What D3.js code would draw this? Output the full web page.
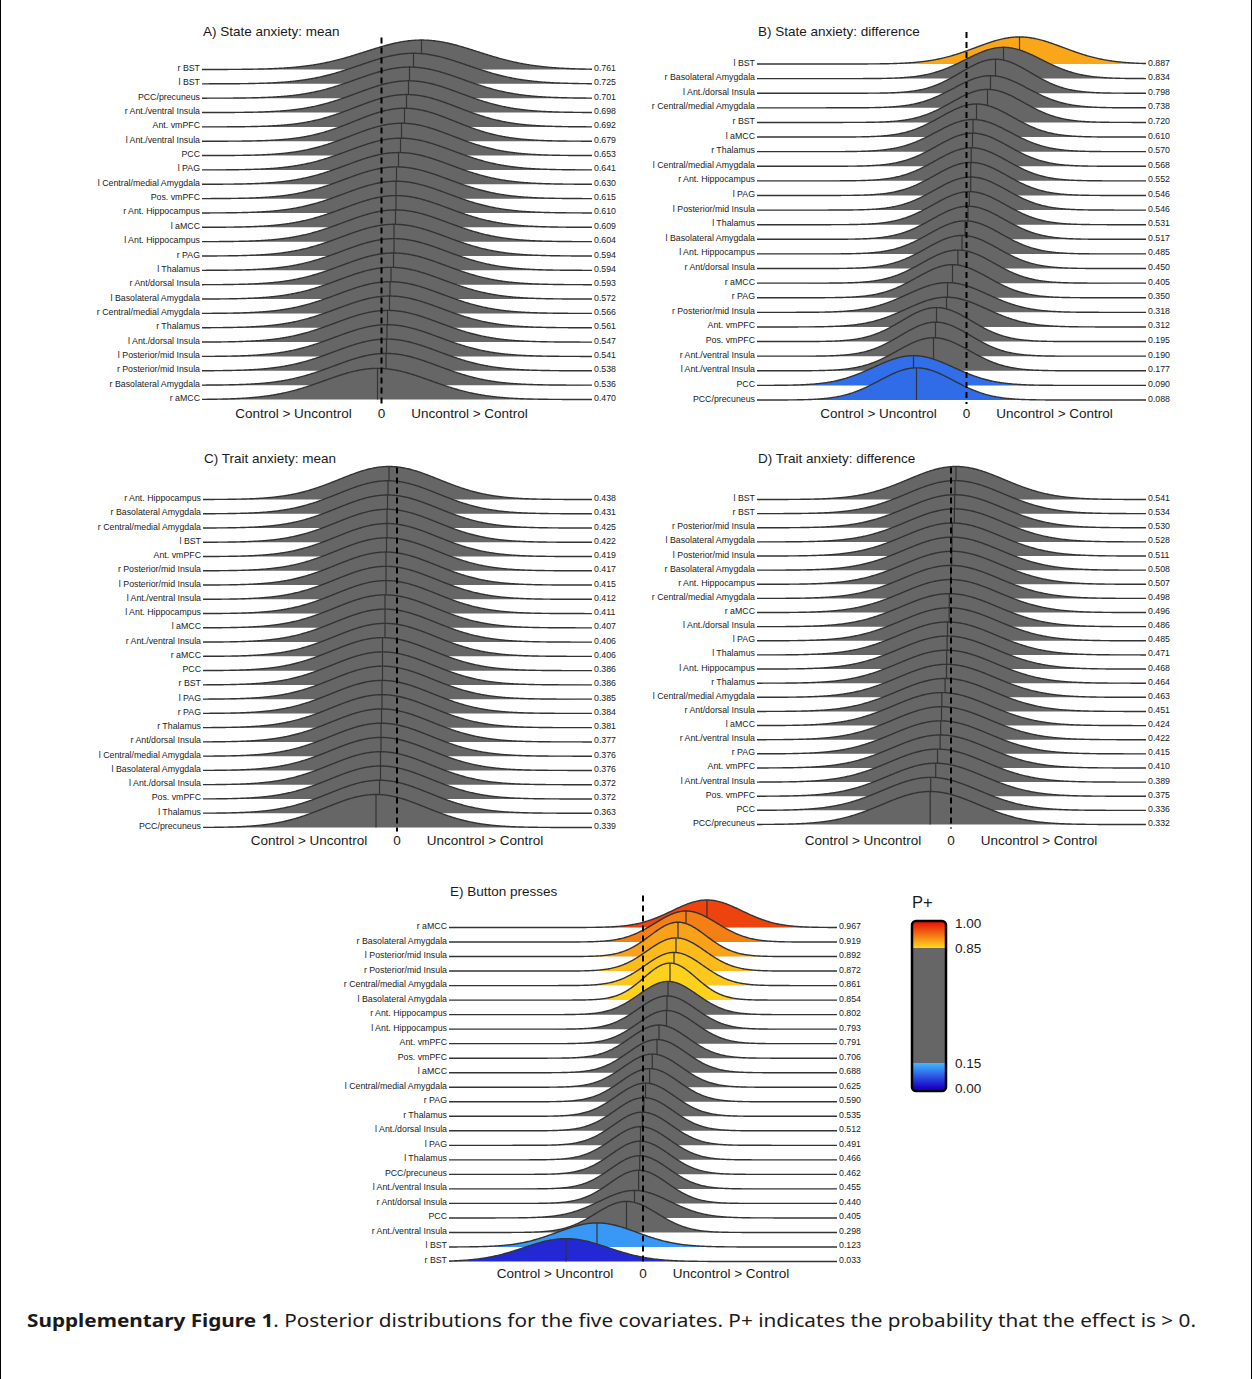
<!DOCTYPE html>
<html>
<head>
<meta charset="utf-8">
<script src="https://cdn.jsdelivr.net/npm/d3@7/dist/d3.min.js"></script>
<style>
  body { margin: 0; background: #fff; }
  svg { display: block; }
  text { font-family: "Liberation Sans", Arial, sans-serif; fill: #1a1a1a; }
</style>
</head>
<body>
<svg id="fig" width="1253" height="1379"></svg>
<script>
// ---- data (posterior mean / sd, arbitrary effect units) ----
const labelsA = ["r BST","l BST","PCC/precuneus","r Ant./ventral Insula","Ant. vmPFC","l Ant./ventral Insula","PCC","l PAG","l Central/medial Amygdala","Pos. vmPFC","r Ant. Hippocampus","l aMCC","l Ant. Hippocampus","r PAG","l Thalamus","r Ant/dorsal Insula","l Basolateral Amygdala","r Central/medial Amygdala","r Thalamus","l Ant./dorsal Insula","l Posterior/mid Insula","r Posterior/mid Insula","r Basolateral Amygdala","r aMCC"];
const pplusA  = ["0.761","0.725","0.701","0.698","0.692","0.679","0.653","0.641","0.630","0.615","0.610","0.609","0.604","0.594","0.594","0.593","0.572","0.566","0.561","0.547","0.541","0.538","0.536","0.470"];
const meanA   = [0.40,0.32,0.28,0.27,0.25,0.23,0.20,0.19,0.17,0.15,0.145,0.145,0.14,0.125,0.125,0.12,0.095,0.085,0.08,0.06,0.055,0.05,0.045,-0.04];
const sdA     = [0.56,0.54,0.53,0.52,0.51,0.50,0.51,0.52,0.52,0.52,0.52,0.52,0.52,0.52,0.52,0.52,0.52,0.52,0.52,0.52,0.52,0.52,0.52,0.53];

const labelsB = ["l BST","r Basolateral Amygdala","l Ant./dorsal Insula","r Central/medial Amygdala","r BST","l aMCC","r Thalamus","l Central/medial Amygdala","r Ant. Hippocampus","l PAG","l Posterior/mid Insula","l Thalamus","l Basolateral Amygdala","l Ant. Hippocampus","r Ant/dorsal Insula","r aMCC","r PAG","r Posterior/mid Insula","Ant. vmPFC","Pos. vmPFC","r Ant./ventral Insula","l Ant./ventral Insula","PCC","PCC/precuneus"];
const pplusB  = ["0.887","0.834","0.798","0.738","0.720","0.610","0.570","0.568","0.552","0.546","0.546","0.531","0.517","0.485","0.450","0.405","0.350","0.318","0.312","0.195","0.190","0.177","0.090","0.088"];
const meanB   = [0.53,0.37,0.29,0.24,0.21,0.10,0.065,0.06,0.047,0.042,0.042,0.028,0.015,-0.014,-0.045,-0.086,-0.14,-0.19,-0.20,-0.30,-0.31,-0.33,-0.53,-0.50];
const sdB     = [0.44,0.38,0.35,0.37,0.36,0.36,0.37,0.36,0.36,0.36,0.36,0.36,0.36,0.36,0.36,0.36,0.36,0.40,0.40,0.35,0.35,0.36,0.40,0.37];

const labelsC = ["r Ant. Hippocampus","r Basolateral Amygdala","r Central/medial Amygdala","l BST","Ant. vmPFC","r Posterior/mid Insula","l Posterior/mid Insula","l Ant./ventral Insula","l Ant. Hippocampus","l aMCC","r Ant./ventral Insula","r aMCC","PCC","r BST","l PAG","r PAG","r Thalamus","r Ant/dorsal Insula","l Central/medial Amygdala","l Basolateral Amygdala","l Ant./dorsal Insula","Pos. vmPFC","l Thalamus","PCC/precuneus"];
const pplusC  = ["0.438","0.431","0.425","0.422","0.419","0.417","0.415","0.412","0.411","0.407","0.406","0.406","0.386","0.386","0.385","0.384","0.381","0.377","0.376","0.376","0.372","0.372","0.363","0.339"];
const meanC   = [-0.08,-0.09,-0.095,-0.10,-0.10,-0.105,-0.11,-0.11,-0.11,-0.12,-0.12,-0.12,-0.145,-0.145,-0.145,-0.15,-0.15,-0.155,-0.16,-0.16,-0.165,-0.165,-0.175,-0.21];
const sdC     = [0.50,0.50,0.50,0.50,0.50,0.50,0.50,0.50,0.50,0.50,0.50,0.50,0.50,0.50,0.50,0.50,0.50,0.50,0.50,0.50,0.50,0.50,0.50,0.50];

const labelsD = ["l BST","r BST","r Posterior/mid Insula","l Basolateral Amygdala","l Posterior/mid Insula","r Basolateral Amygdala","r Ant. Hippocampus","r Central/medial Amygdala","r aMCC","l Ant./dorsal Insula","l PAG","l Thalamus","l Ant. Hippocampus","r Thalamus","l Central/medial Amygdala","r Ant/dorsal Insula","l aMCC","r Ant./ventral Insula","r PAG","Ant. vmPFC","l Ant./ventral Insula","Pos. vmPFC","PCC","PCC/precuneus"];
const pplusD  = ["0.541","0.534","0.530","0.528","0.511","0.508","0.507","0.498","0.496","0.486","0.485","0.471","0.468","0.464","0.463","0.451","0.424","0.422","0.415","0.410","0.389","0.375","0.336","0.332"];
const meanD   = [0.05,0.04,0.036,0.034,0.013,0.01,0.008,-0.002,-0.005,-0.017,-0.018,-0.035,-0.039,-0.043,-0.045,-0.059,-0.092,-0.095,-0.103,-0.109,-0.135,-0.153,-0.203,-0.208];
const sdD     = [0.48,0.48,0.48,0.48,0.48,0.48,0.48,0.48,0.48,0.48,0.48,0.48,0.48,0.48,0.48,0.48,0.48,0.48,0.48,0.48,0.48,0.48,0.48,0.48];

const labelsE = ["r aMCC","r Basolateral Amygdala","l Posterior/mid Insula","r Posterior/mid Insula","r Central/medial Amygdala","l Basolateral Amygdala","r Ant. Hippocampus","l Ant. Hippocampus","Ant. vmPFC","Pos. vmPFC","l aMCC","l Central/medial Amygdala","r PAG","r Thalamus","l Ant./dorsal Insula","l PAG","l Thalamus","PCC/precuneus","l Ant./ventral Insula","r Ant/dorsal Insula","PCC","r Ant./ventral Insula","l BST","r BST"];
const pplusE  = ["0.967","0.919","0.892","0.872","0.861","0.854","0.802","0.793","0.791","0.706","0.688","0.625","0.590","0.535","0.512","0.491","0.466","0.462","0.455","0.440","0.405","0.298","0.123","0.033"];
const meanE   = [0.64,0.43,0.35,0.33,0.31,0.27,0.25,0.24,0.235,0.16,0.14,0.093,0.066,0.025,0.009,-0.007,-0.025,-0.028,-0.033,-0.044,-0.085,-0.165,-0.46,-0.77];
const sdE     = [0.35,0.31,0.28,0.29,0.29,0.26,0.29,0.29,0.29,0.29,0.29,0.29,0.29,0.29,0.29,0.29,0.29,0.29,0.29,0.29,0.35,0.31,0.40,0.42];

const barTicks = ["1.00","0.85","0.15","0.00"];

// ---- layout ----
const panels = [
  { title: "A) State anxiety: mean",       labels: labelsA, pplus: pplusA, mean: meanA, sd: sdA,
    domain: [-1.795, 2.105], x0: 202, x1: 592, y0: 69.5,  y1: 399.5, titleY: 31,  axisY: 413,  peak: 33 },
  { title: "B) State anxiety: difference", labels: labelsB, pplus: pplusB, mean: meanB, sd: sdB,
    domain: [-2.095, 1.795], x0: 757, x1: 1146, y0: 64,   y1: 400,   titleY: 31,  axisY: 413,  peak: 34 },
  { title: "C) Trait anxiety: mean",       labels: labelsC, pplus: pplusC, mean: meanC, sd: sdC,
    domain: [-1.94, 1.95],   x0: 203, x1: 592, y0: 499.5, y1: 827.5, titleY: 458, axisY: 840,  peak: 33 },
  { title: "D) Trait anxiety: difference", labels: labelsD, pplus: pplusD, mean: meanD, sd: sdD,
    domain: [-1.94, 1.95],   x0: 757, x1: 1146, y0: 499.5, y1: 824.5, titleY: 458, axisY: 840,  peak: 33 },
  { title: "E) Button presses",            labels: labelsE, pplus: pplusE, mean: meanE, sd: sdE,
    domain: [-1.94, 1.94],   x0: 449, x1: 837, y0: 927.5, y1: 1261.5, titleY: 891, axisY: 1273, peak: 37 }
];

const GRAY = "#666666";
const hiColor = d3.scaleLinear().domain([0.85, 1]).range(["#ffd61e", "#e8190a"]);
const loColor = d3.scaleLinear().domain([0, 0.15]).range(["#1a00c8", "#40b8ff"]);
function fillFor(p) {
  if (p >= 0.85) return hiColor(p);
  if (p <= 0.15) return loColor(p);
  return GRAY;
}

const svg = d3.select("#fig");
svg.append("rect").attr("width", 1253).attr("height", 1379).attr("fill", "#fff");

function pdf(v, m, s) {
  const z = (v - m) / s;
  return Math.exp(-0.5 * z * z) / (s * Math.sqrt(2 * Math.PI));
}

panels.forEach(P => {
  const n = P.labels.length;
  const x = d3.scaleLinear().domain(P.domain).range([P.x0, P.x1]);
  const y = d3.scalePoint().domain(d3.range(n)).range([P.y0, P.y1]);
  const maxPdf = d3.max(P.sd, s => 1 / (s * Math.sqrt(2 * Math.PI)));
  const h = d3.scaleLinear().domain([0, maxPdf]).range([0, P.peak]);
  const xs = x.ticks(400).filter(v => v >= P.domain[0] && v <= P.domain[1]);
  xs.unshift(P.domain[0]); xs.push(P.domain[1]);

  const g = svg.append("g").attr("class", "panel");

  g.append("text")
    .attr("x", P.x0 + 1).attr("y", P.titleY + 4.8)
    .attr("font-size", 13.5)
    .text(P.title);

  for (let i = 0; i < n; i++) {
    const base = y(i);
    const m = P.mean[i], s = P.sd[i];
    const pts = xs.map(v => [v, pdf(v, m, s)]);

    const area = d3.area()
      .x(d => x(d[0]))
      .y0(base)
      .y1(d => base - h(d[1]));
    const line = d3.line()
      .x(d => x(d[0]))
      .y(d => base - h(d[1]));

    const row = g.append("g").attr("class", "ridge");
    row.append("path").datum(pts)
      .attr("d", area)
      .attr("fill", fillFor(+P.pplus[i]));
    row.append("path").datum(pts)
      .attr("d", line)
      .attr("fill", "none")
      .attr("stroke", "#333")
      .attr("stroke-width", 1.4)
      .attr("stroke-linejoin", "round");
    row.append("line")
      .attr("x1", x(m)).attr("x2", x(m))
      .attr("y1", base).attr("y2", base - h(pdf(m, m, s)))
      .attr("stroke", "#333")
      .attr("stroke-width", 1.2);

    g.append("text")
      .attr("x", P.x0 - 2).attr("y", base + 1.5)
      .attr("text-anchor", "end")
      .attr("font-size", 8.8)
      .text(P.labels[i]);
    g.append("text")
      .attr("x", P.x1 + 2).attr("y", base + 1.5)
      .attr("font-size", 8.8)
      .text(P.pplus[i]);
  }

  // zero reference
  g.append("line")
    .attr("x1", x(0)).attr("x2", x(0))
    .attr("y1", P.y0 - 32).attr("y2", P.y1 + 4)
    .attr("stroke", "#000")
    .attr("stroke-width", 2)
    .attr("stroke-dasharray", "6,4");

  const axis = g.append("g").attr("font-size", 13.5).attr("text-anchor", "middle");
  axis.append("text").attr("x", x(0) - 88).attr("y", P.axisY + 4.8).text("Control > Uncontrol");
  axis.append("text").attr("x", x(0)).attr("y", P.axisY + 4.8).text("0");
  axis.append("text").attr("x", x(0) + 88).attr("y", P.axisY + 4.8).text("Uncontrol > Control");
});

// ---- colour bar ----
const yBar = d3.scaleLinear().domain([0, 1]).range([1088, 923]);
const grad = svg.append("defs").append("linearGradient")
  .attr("id", "pbar").attr("gradientUnits", "userSpaceOnUse")
  .attr("x1", 0).attr("x2", 0).attr("y1", yBar(1)).attr("y2", yBar(0));
const span = yBar(0) - yBar(1);
const off = p => (yBar(p) - yBar(1)) / span;
[
  [off(1), hiColor(1)], [off(0.85), hiColor(0.85)],
  [off(0.85), GRAY], [off(0.15), GRAY],
  [off(0.15), loColor(0.15)], [off(0), loColor(0)]
].forEach(([o, c]) => grad.append("stop").attr("offset", o).attr("stop-color", c));

svg.append("rect")
  .attr("x", 912).attr("y", yBar(1) - 2)
  .attr("width", 34).attr("height", yBar(0) - yBar(1) + 5)
  .attr("rx", 4)
  .attr("fill", "url(#pbar)")
  .attr("stroke", "#000").attr("stroke-width", 2.5);

svg.append("text").attr("x", 912).attr("y", 908).attr("font-size", 16.5).text("P+");
svg.selectAll("text.bartick").data(barTicks).join("text")
  .attr("class", "bartick")
  .attr("x", 955).attr("y", d => yBar(+d) + 4.8)
  .attr("font-size", 13.5)
  .text(d => d);

// ---- caption ----
const cap = svg.append("text")
  .attr("x", 27).attr("y", 1327)
  .attr("font-size", 18.5)
  .attr("textLength", 1169).attr("lengthAdjust", "spacingAndGlyphs")
  .style("font-family", "'Noto Sans', 'Open Sans', sans-serif");
cap.append("tspan").attr("font-weight", "bold").text("Supplementary Figure 1");
cap.append("tspan").text(". Posterior distributions for the five covariates. P+ indicates the probability that the effect is > 0.");

// frame
svg.append("line").attr("x1", 0.5).attr("x2", 0.5).attr("y1", 0).attr("y2", 1379).attr("stroke", "#000");
svg.append("line").attr("x1", 1251.5).attr("x2", 1251.5).attr("y1", 0).attr("y2", 1379).attr("stroke", "#000");
</script>
</body>
</html>
